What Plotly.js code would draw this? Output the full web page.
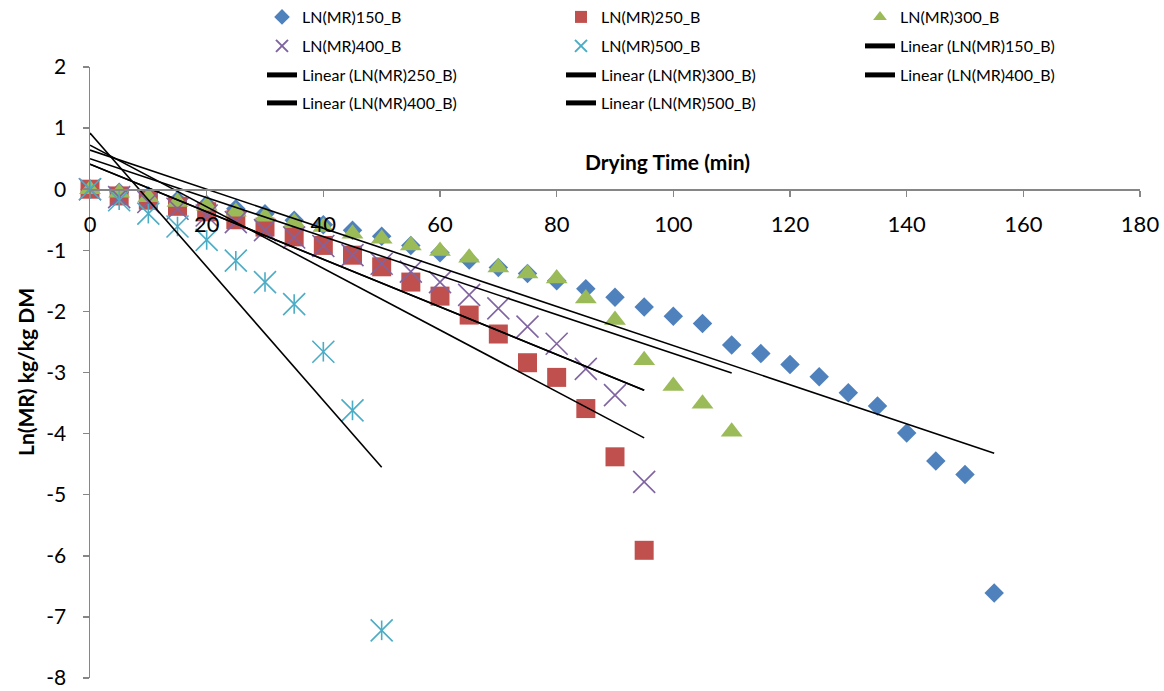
<!DOCTYPE html>
<html><head><meta charset="utf-8">
<script src="https://cdn.plot.ly/plotly-3.0.1.min.js"></script>
<style>html,body{margin:0;padding:0;background:#fff;}#chart{width:1164px;height:691px;}</style>
</head><body><div id="chart"></div>
<script>
// ---- data ----
const time150 = [0,5,10,15,20,25,30,35,40,45,50,55,60,65,70,75,80,85,90,95,100,105,110,115,120,125,130,135,140,145,150,155];
const ln150 = [0,-0.05,-0.11,-0.18,-0.25,-0.32,-0.40,-0.51,-0.58,-0.67,-0.77,-0.92,-1.04,-1.16,-1.28,-1.38,-1.50,-1.63,-1.77,-1.93,-2.08,-2.20,-2.55,-2.69,-2.87,-3.07,-3.33,-3.55,-3.99,-4.45,-4.67,-6.61];
const time250 = [0,5,10,15,20,25,30,35,40,45,50,55,60,65,70,75,80,85,90,95];
const ln250 = [0,-0.11,-0.18,-0.28,-0.37,-0.50,-0.62,-0.78,-0.92,-1.08,-1.27,-1.52,-1.75,-2.06,-2.37,-2.84,-3.08,-3.59,-4.38,-5.91];
const time300 = [0,5,10,15,20,25,30,35,40,45,50,55,60,65,70,75,80,85,90,95,100,105,110];
const ln300 = [0,-0.06,-0.13,-0.21,-0.27,-0.37,-0.45,-0.54,-0.62,-0.73,-0.81,-0.92,-1.01,-1.12,-1.28,-1.38,-1.46,-1.79,-2.14,-2.80,-3.22,-3.51,-3.97];
const time400 = [0,5,10,15,20,25,30,35,40,45,50,55,60,65,70,75,80,85,90,95];
const ln400 = [0,-0.13,-0.21,-0.32,-0.43,-0.54,-0.67,-0.79,-0.93,-1.08,-1.22,-1.35,-1.52,-1.73,-1.95,-2.25,-2.53,-2.94,-3.37,-4.79];
const time500 = [0,5,10,15,20,25,30,35,40,45,50];
const ln500 = [0,-0.18,-0.40,-0.61,-0.83,-1.17,-1.52,-1.88,-2.66,-3.62,-7.22];

const seriesNames = ['LN(MR)150_B','LN(MR)250_B','LN(MR)300_B','LN(MR)400_B','LN(MR)500_B'];
const trendNames = ['Linear (LN(MR)150_B)','Linear (LN(MR)250_B)','Linear (LN(MR)300_B)','Linear (LN(MR)400_B)','Linear (LN(MR)400_B)','Linear (LN(MR)500_B)'];
const trendStartX = [0,0,0,0,0,0];
const trendEndX = [155,95,110,95,95,50];
const trendStartY = [0.64,0.72,0.50,0.41,0.41,0.92];
const trendEndY = [-4.32,-4.07,-3.01,-3.29,-3.29,-4.55];

const xTickVals = [0,20,40,60,80,100,120,140,160,180];
const yTickVals = [2,1,0,-1,-2,-3,-4,-5,-6,-7,-8];
const yTickLabels = ['2','1','0','-1','-2','-3','-4','-5','-6','-7','-8'];

// ---- styling ----
const FONT = 'Lato, "Open Sans", sans-serif';
const PLOT_TOP = 67, PLOT_BOTTOM = 678, PLOT_H = PLOT_BOTTOM - PLOT_TOP;
const seriesX = [time150,time250,time300,time400,time500];
const seriesY = [ln150,ln250,ln300,ln400,ln500];
const markerStyles = [
  {symbol:'diamond', size:15, color:'#4F81BD'},
  {symbol:'square', size:19, color:'#C0504D'},
  {symbol:'triangle-up', size:19, color:'#9BBB59'},
  {symbol:'x-thin-open', size:22, color:'#8064A2', line:{color:'#8064A2', width:1.6}},
  {symbol:'x-thin-open', size:22, color:'#4BACC6', line:{color:'#4BACC6', width:1.6}}
];
const seriesLegend = ['legend','legend','legend','legend2','legend2'];
const trendLegend = ['legend2','legend3','legend3','legend3','legend4','legend4'];

const traces = [];
for (let i = 0; i < 5; i++) {
  traces.push({
    type:'scatter', mode:'markers', x:seriesX[i], y:seriesY[i], name:seriesNames[i],
    marker:markerStyles[i], cliponaxis:false, legend:seriesLegend[i], showlegend:true
  });
  if (i === 4) {
    // vertical bar of the star marker
    traces.push({
      type:'scatter', mode:'markers', x:seriesX[i], y:seriesY[i], name:seriesNames[i],
      marker:{symbol:'line-ns-open', size:14, color:'#4BACC6', line:{color:'#4BACC6', width:1.6}},
      cliponaxis:false, showlegend:false, hoverinfo:'skip'
    });
  }
}
for (let j = 0; j < trendNames.length; j++) {
  traces.push({
    type:'scatter', mode:'lines', x:[trendStartX[j], trendEndX[j]], y:[trendStartY[j], trendEndY[j]],
    name:trendNames[j], line:{color:'#000000', width:1.6}, legend:trendLegend[j], cliponaxis:false
  });
}

function legendRow(yPix) {
  return {
    orientation:'h', xref:'container', yref:'container', x:262/1164, xanchor:'left',
    y:1 - yPix/691, yanchor:'middle', entrywidth:254, entrywidthmode:'pixels',
    itemsizing:'constant', font:{family:FONT, size:16, color:'#000'}, bgcolor:'rgba(0,0,0,0)',
    traceorder:'normal'
  };
}

const layout = {
  width:1164, height:691,
  margin:{l:90, r:24, t:PLOT_TOP, b:691 - PLOT_BOTTOM, autoexpand:false},
  paper_bgcolor:'#fff', plot_bgcolor:'#fff',
  font:{family:FONT, color:'#000'},
  showlegend:true,
  legend:legendRow(17), legend2:legendRow(46), legend3:legendRow(75), legend4:legendRow(103),
  xaxis:{
    range:[0,180], tickvals:xTickVals, ticktext:xTickVals.map(String),
    anchor:'free', position:0.8, showline:true, linecolor:'#868686', linewidth:1.5,
    ticks:'outside', ticklen:6, tickcolor:'#868686', tickwidth:1.5,
    showgrid:false, zeroline:false, tickfont:{family:FONT, size:22, color:'#000'},
    ticklabelstandoff:9, automargin:false, ticklabeloverflow:'allow'
  },
  yaxis:{
    range:[-8,2], tickvals:yTickVals, ticktext:yTickLabels,
    showline:true, linecolor:'#868686', linewidth:1.5,
    ticks:'outside', ticklen:6, tickcolor:'#868686', tickwidth:1.5,
    showgrid:false, zeroline:false, tickfont:{family:FONT, size:21, color:'#000'},
    ticklabelstandoff:12, automargin:false, ticklabeloverflow:'allow'
  },
  annotations:[
    {text:'<b>Drying Time (min)</b>', xref:'paper', yref:'paper', x:(667-90)/1050, y:(PLOT_BOTTOM-161)/PLOT_H,
     xanchor:'center', yanchor:'middle', showarrow:false, font:{family:FONT, size:21, color:'#000'}},
    {text:'<b>Ln(MR) kg/kg DM</b>', xref:'paper', yref:'paper', x:(25-90)/1050, y:(PLOT_BOTTOM-372)/PLOT_H,
     xanchor:'center', yanchor:'middle', showarrow:false, textangle:-90, font:{family:FONT, size:21, color:'#000'}}
  ]
};

Plotly.newPlot('chart', traces, layout, {displayModeBar:false, staticPlot:true});
</script></body></html>
